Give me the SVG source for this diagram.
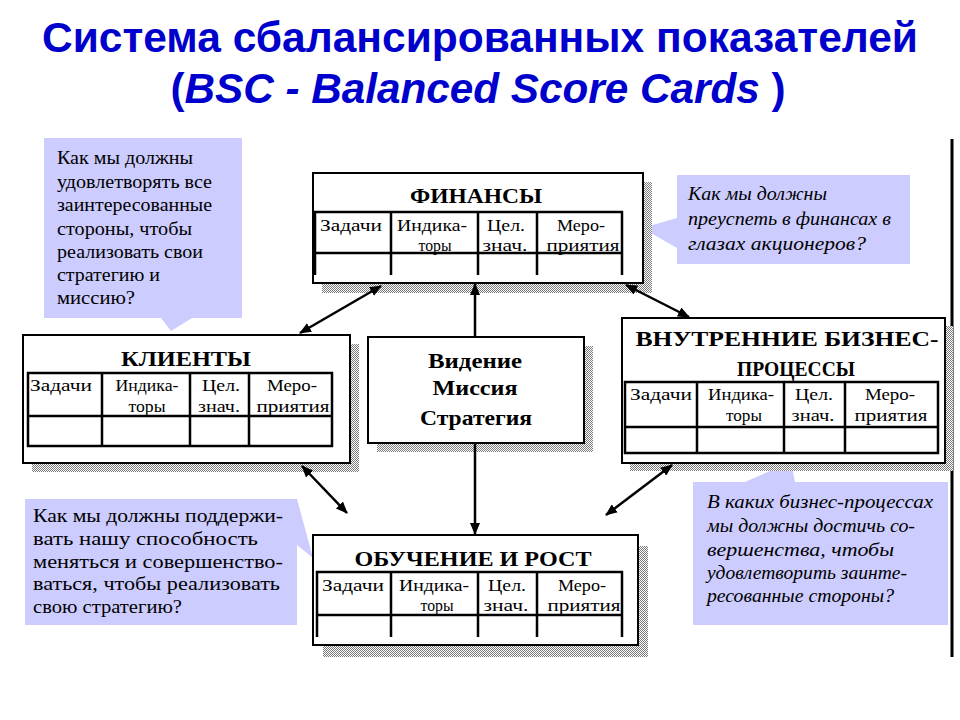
<svg xmlns="http://www.w3.org/2000/svg" width="960" height="720" viewBox="0 0 960 720">
<defs>
<pattern id="dots" width="2" height="2" patternUnits="userSpaceOnUse">
<rect width="2" height="2" fill="#ffffff"/>
<rect width="1" height="1" fill="#7a7a7a"/>
<rect x="1" y="1" width="1" height="1" fill="#7a7a7a"/>
</pattern>
<marker id="ah" viewBox="0 0 12 10" refX="11" refY="5" markerWidth="12" markerHeight="10" markerUnits="userSpaceOnUse" orient="auto-start-reverse">
<path d="M0,0 L12,5 L0,10 Z" fill="#000"/>
</marker>
<style>
.ttl{font-family:"Liberation Sans",Arial,sans-serif;font-weight:bold;font-size:42px;fill:#0000cc;text-anchor:middle}
.call{fill:#ccccff}
.ct{font-family:"Liberation Serif","Times New Roman",serif;font-size:18px;fill:#000}
.cti{font-family:"Liberation Serif","Times New Roman",serif;font-size:18px;font-style:italic;fill:#000}
.shadow{fill:url(#dots)}
.box{fill:#fff;stroke:#000;stroke-width:2}
.tl{fill:none;stroke:#000;stroke-width:2.5}
.bt{font-family:"Liberation Serif","Times New Roman",serif;font-weight:bold;font-size:20px;fill:#000;text-anchor:middle}
.hd{font-family:"Liberation Serif","Times New Roman",serif;font-size:17px;fill:#000;text-anchor:middle}
.vt{font-family:"Liberation Serif","Times New Roman",serif;font-weight:bold;font-size:21px;fill:#000;text-anchor:middle}
.con{stroke:#000;stroke-width:2.5;fill:none}
</style>
</defs>
<rect width="960" height="720" fill="#fff"/>

<g id="title">
<text class="ttl" x="480" y="52" textLength="876" lengthAdjust="spacingAndGlyphs">Система сбалансированных показателей</text>
<text class="ttl" x="478" y="103" textLength="615" lengthAdjust="spacingAndGlyphs">(<tspan font-style="italic">BSC - Balanced Score Cards</tspan> )</text>
</g>

<line x1="952" y1="139" x2="952" y2="657" stroke="#000" stroke-width="3"/>

<g id="callout-clients">
<path class="call" d="M44,138 H242 V318 H192 L171,331 L161,318 H44 Z"/>
<text class="ct" x="57" y="164" textLength="136" lengthAdjust="spacingAndGlyphs">Как мы должны</text>
<text class="ct" x="57" y="188" textLength="155" lengthAdjust="spacingAndGlyphs">удовлетворять все</text>
<text class="ct" x="57" y="211" textLength="155" lengthAdjust="spacingAndGlyphs">заинтересованные</text>
<text class="ct" x="57" y="235" textLength="135" lengthAdjust="spacingAndGlyphs">стороны, чтобы</text>
<text class="ct" x="57" y="258" textLength="146" lengthAdjust="spacingAndGlyphs">реализовать свои</text>
<text class="ct" x="57" y="281" textLength="103" lengthAdjust="spacingAndGlyphs">стратегию и</text>
<text class="ct" x="57" y="304" textLength="78" lengthAdjust="spacingAndGlyphs">миссию?</text>
</g>

<g id="callout-finance">
<path class="call" d="M677,175 H910 V264 H677 V248 L642,228 L677,218 Z"/>
<text class="cti" x="688" y="200" textLength="139" lengthAdjust="spacingAndGlyphs">Как мы должны</text>
<text class="cti" x="688" y="225" textLength="203" lengthAdjust="spacingAndGlyphs">преуспеть в финансах в</text>
<text class="cti" x="688" y="250" textLength="178" lengthAdjust="spacingAndGlyphs">глазах акционеров?</text>
</g>

<g id="callout-learning">
<path class="call" d="M25,499 H297 L313,558 L297,545 V625 H25 Z"/>
<text class="ct" x="33" y="522" textLength="250" lengthAdjust="spacingAndGlyphs">Как мы должны поддержи-</text>
<text class="ct" x="33" y="545" textLength="225" lengthAdjust="spacingAndGlyphs">вать нашу способность</text>
<text class="ct" x="33" y="568" textLength="250" lengthAdjust="spacingAndGlyphs">меняться и совершенство-</text>
<text class="ct" x="33" y="590" textLength="247" lengthAdjust="spacingAndGlyphs">ваться, чтобы реализовать</text>
<text class="ct" x="33" y="613" textLength="149" lengthAdjust="spacingAndGlyphs">свою стратегию?</text>
</g>

<g id="callout-processes">
<path class="call" d="M693,482 H745 L791,462 L795,482 H948 V625 H693 Z"/>
<text class="cti" x="707" y="508" textLength="226" lengthAdjust="spacingAndGlyphs">В каких бизнес-процессах</text>
<text class="cti" x="707" y="532" textLength="208" lengthAdjust="spacingAndGlyphs">мы должны достичь со-</text>
<text class="cti" x="707" y="556" textLength="187" lengthAdjust="spacingAndGlyphs">вершенства, чтобы</text>
<text class="cti" x="707" y="579" textLength="200" lengthAdjust="spacingAndGlyphs">удовлетворить заинте-</text>
<text class="cti" x="707" y="602" textLength="187" lengthAdjust="spacingAndGlyphs">ресованные стороны?</text>
</g>

<g id="finance">
<rect class="shadow" x="322" y="182" width="330" height="111"/>
<rect class="box" x="313" y="173" width="330" height="110"/>
<text class="bt" x="476" y="203" textLength="132" lengthAdjust="spacingAndGlyphs">ФИНАНСЫ</text>
<path class="tl" d="M315,275 V212 H622 V275 M315,253 H622 M391,212 V275 M478,212 V275 M537,212 V275"/>
<text class="hd" x="351" y="231" textLength="62" lengthAdjust="spacingAndGlyphs">Задачи</text>
<text class="hd" x="432" y="231" textLength="70" lengthAdjust="spacingAndGlyphs">Индика-</text>
<text class="hd" x="435" y="251" textLength="33" lengthAdjust="spacingAndGlyphs">торы</text>
<text class="hd" x="506" y="231" textLength="38" lengthAdjust="spacingAndGlyphs">Цел.</text>
<text class="hd" x="505" y="251" textLength="45" lengthAdjust="spacingAndGlyphs">знач.</text>
<text class="hd" x="581" y="231" textLength="48" lengthAdjust="spacingAndGlyphs">Меро-</text>
<text class="hd" x="583" y="251" textLength="73" lengthAdjust="spacingAndGlyphs">приятия</text>
</g>

<g id="clients">
<rect class="shadow" x="32" y="344" width="327" height="128"/>
<rect class="box" x="23" y="335" width="327" height="128"/>
<text class="bt" x="186" y="366" textLength="130" lengthAdjust="spacingAndGlyphs">КЛИЕНТЫ</text>
<path class="tl" d="M28,373 H332 V446 H28 Z M28,416 H332 M102,373 V446 M190,373 V446 M249,373 V446"/>
<text class="hd" x="61" y="391" textLength="62" lengthAdjust="spacingAndGlyphs">Задачи</text>
<text class="hd" x="147" y="391" textLength="63" lengthAdjust="spacingAndGlyphs">Индика-</text>
<text class="hd" x="147" y="412" textLength="37" lengthAdjust="spacingAndGlyphs">торы</text>
<text class="hd" x="221" y="391" textLength="38" lengthAdjust="spacingAndGlyphs">Цел.</text>
<text class="hd" x="219" y="412" textLength="42" lengthAdjust="spacingAndGlyphs">знач.</text>
<text class="hd" x="292" y="391" textLength="50" lengthAdjust="spacingAndGlyphs">Меро-</text>
<text class="hd" x="293" y="412" textLength="73" lengthAdjust="spacingAndGlyphs">приятия</text>
</g>

<g id="vision">
<rect class="shadow" x="377" y="346" width="216" height="106"/>
<rect class="box" x="368" y="337" width="216" height="106"/>
<text class="vt" x="475" y="368" textLength="94" lengthAdjust="spacingAndGlyphs">Видение</text>
<text class="vt" x="475" y="395" textLength="85" lengthAdjust="spacingAndGlyphs">Миссия</text>
<text class="vt" x="476" y="425" textLength="112" lengthAdjust="spacingAndGlyphs">Стратегия</text>
</g>

<g id="processes">
<rect class="shadow" x="630" y="326" width="323" height="145"/>
<rect class="box" x="622" y="318" width="323" height="145"/>
<text class="bt" x="787" y="346" textLength="303" lengthAdjust="spacingAndGlyphs">ВНУТРЕННИЕ БИЗНЕС-</text>
<text class="bt" x="796" y="376" textLength="118" lengthAdjust="spacingAndGlyphs">ПРОЦЕССЫ</text>
<path class="tl" d="M625,382 H938 V453 H625 Z M625,427 H938 M697,382 V453 M784,382 V453 M845,382 V453"/>
<text class="hd" x="661" y="400" textLength="62" lengthAdjust="spacingAndGlyphs">Задачи</text>
<text class="hd" x="741" y="400" textLength="66" lengthAdjust="spacingAndGlyphs">Индика-</text>
<text class="hd" x="744" y="421" textLength="36" lengthAdjust="spacingAndGlyphs">торы</text>
<text class="hd" x="814" y="400" textLength="38" lengthAdjust="spacingAndGlyphs">Цел.</text>
<text class="hd" x="813" y="421" textLength="43" lengthAdjust="spacingAndGlyphs">знач.</text>
<text class="hd" x="890" y="400" textLength="50" lengthAdjust="spacingAndGlyphs">Меро-</text>
<text class="hd" x="891" y="421" textLength="73" lengthAdjust="spacingAndGlyphs">приятия</text>
</g>

<g id="learning">
<rect class="shadow" x="323" y="546" width="325" height="111"/>
<rect class="box" x="313" y="535" width="325" height="110"/>
<text class="bt" x="473" y="566" textLength="237" lengthAdjust="spacingAndGlyphs">ОБУЧЕНИЕ И РОСТ</text>
<path class="tl" d="M317,637 V572 H622 V637 M317,615 H622 M391,572 V637 M478,572 V637 M537,572 V637"/>
<text class="hd" x="353" y="591" textLength="62" lengthAdjust="spacingAndGlyphs">Задачи</text>
<text class="hd" x="434" y="591" textLength="70" lengthAdjust="spacingAndGlyphs">Индика-</text>
<text class="hd" x="437" y="611" textLength="33" lengthAdjust="spacingAndGlyphs">торы</text>
<text class="hd" x="507" y="591" textLength="38" lengthAdjust="spacingAndGlyphs">Цел.</text>
<text class="hd" x="506" y="611" textLength="45" lengthAdjust="spacingAndGlyphs">знач.</text>
<text class="hd" x="582" y="591" textLength="48" lengthAdjust="spacingAndGlyphs">Меро-</text>
<text class="hd" x="584" y="611" textLength="73" lengthAdjust="spacingAndGlyphs">приятия</text>
</g>

<g id="connectors">
<line class="con" x1="381" y1="286" x2="300" y2="333" marker-start="url(#ah)" marker-end="url(#ah)"/>
<line class="con" x1="626" y1="285" x2="689" y2="317" marker-start="url(#ah)" marker-end="url(#ah)"/>
<line class="con" x1="475" y1="337" x2="475" y2="284" marker-end="url(#ah)"/>
<line class="con" x1="475" y1="443" x2="475" y2="534" marker-end="url(#ah)"/>
<line class="con" x1="302" y1="466" x2="347" y2="513" marker-start="url(#ah)" marker-end="url(#ah)"/>
<line class="con" x1="672" y1="465" x2="606" y2="515" marker-start="url(#ah)" marker-end="url(#ah)"/>
</g>
</svg>
